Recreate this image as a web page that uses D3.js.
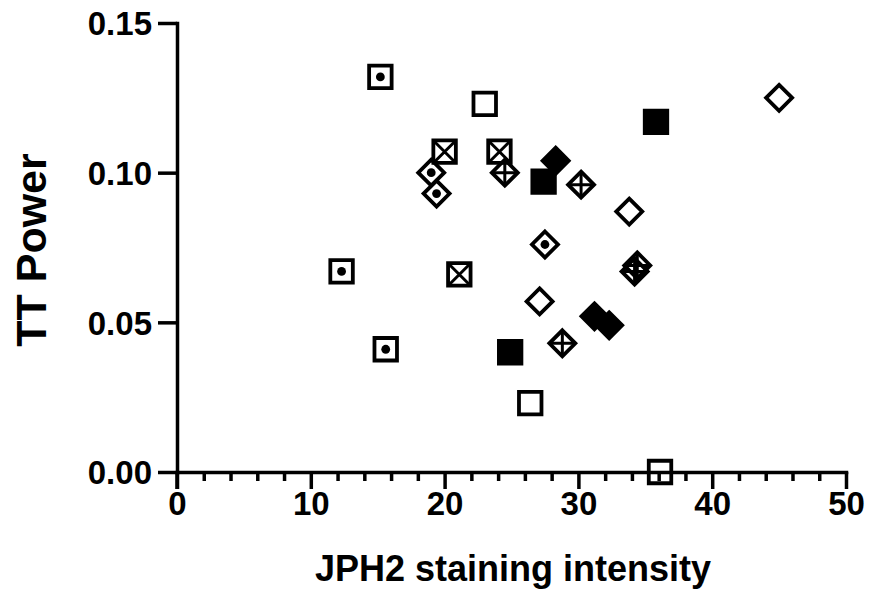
<!DOCTYPE html>
<html>
<head>
<meta charset="utf-8">
<script src="https://cdn.jsdelivr.net/npm/d3@7"></script>
<style>
  body { margin: 0; background: #fff; }
  text { font-family: "Liberation Sans", Arial, sans-serif; font-weight: bold; fill: #000; }
</style>
</head>
<body>
<script>
// scatter of TT power vs JPH2 staining

(function(){

//data, one pair of arrays per marker style
var squareDotX = [15.2, 12.3, 15.6],
    squareDotY = [0.132, 0.067, 0.041];
var squareOpenX = [23.0, 26.4, 36.1],
    squareOpenY = [0.123, 0.023, 0.000];
var squareCrossX = [20.0, 24.1, 21.1],
    squareCrossY = [0.107, 0.107, 0.066];
var squareFillX = [27.4, 24.9, 35.8],
    squareFillY = [0.097, 0.040, 0.117];
var diamondDotX = [19.0, 19.4, 27.5],
    diamondDotY = [0.100, 0.093, 0.076];
var diamondOpenX = [45.0, 33.8, 27.1],
    diamondOpenY = [0.125, 0.087, 0.057];
var diamondPlusX = [24.5, 30.2, 34.4, 34.2, 28.8],
    diamondPlusY = [0.100, 0.096, 0.069, 0.067, 0.043];
var diamondFillX = [28.3, 31.2, 32.3],
    diamondFillY = [0.104, 0.052, 0.049];

var xTicks = [0, 10, 20, 30, 40, 50],
    xMinor = [2, 4, 6, 8, 12, 14, 16, 18, 22, 24, 26, 28, 32, 34, 36, 38, 42, 44, 46, 48],
    yTicks = [0, 0.05, 0.10, 0.15];

//group list, drawn in this order
var groups = [
    {shape: "square", deco: "dot", xs: squareDotX, ys: squareDotY},
    {shape: "square", deco: "none", xs: squareOpenX, ys: squareOpenY},
    {shape: "square", deco: "x", xs: squareCrossX, ys: squareCrossY},
    {shape: "square", deco: "fill", xs: squareFillX, ys: squareFillY},
    {shape: "diamond", deco: "dot", xs: diamondDotX, ys: diamondDotY},
    {shape: "diamond", deco: "none", xs: diamondOpenX, ys: diamondOpenY},
    {shape: "diamond", deco: "plus", xs: diamondPlusX, ys: diamondPlusY},
    {shape: "diamond", deco: "fill", xs: diamondFillX, ys: diamondFillY}
];

var width = 870,
    height = 590;

var svg = d3.select("body")
    .append("svg")
    .attr("width", width)
    .attr("height", height);

//scales
var x = d3.scaleLinear()
    .domain([0, 50])
    .range([177, 846]);

var y = d3.scaleLinear()
    .domain([0, 0.15])
    .range([472, 23]);

//minor x ticks first so the axis line covers them
svg.append("g")
    .attr("class", "xminor")
    .attr("transform", "translate(0," + y(0) + ")")
    .call(d3.axisBottom(x).tickValues(xMinor).tickSize(9).tickFormat(""));

var xAxis = svg.append("g")
    .attr("class", "xaxis")
    .attr("transform", "translate(0," + y(0) + ")")
    .call(d3.axisBottom(x).tickValues(xTicks).tickSize(17).tickSizeOuter(0).tickPadding(4));

var yAxis = svg.append("g")
    .attr("class", "yaxis")
    .attr("transform", "translate(" + x(0) + ",0)")
    .call(d3.axisLeft(y).tickValues(yTicks).tickSize(19).tickSizeOuter(0).tickPadding(6).tickFormat(d3.format(".2f")));

//axis styling
svg.selectAll(".xminor path").remove();
svg.selectAll(".xminor line, .xaxis line, .yaxis line")
    .attr("stroke", "#000")
    .attr("stroke-width", 3.5);
svg.selectAll(".xaxis path, .yaxis path")
    .attr("stroke", "#000")
    .attr("stroke-width", 3.5)
    .attr("stroke-linecap", "square");
svg.selectAll(".xaxis text, .yaxis text")
    .attr("font-size", 33)
    .attr("font-family", null)
    .attr("fill", "#000");
xAxis.selectAll("text").attr("dy", "0.68em");
yAxis.selectAll("text").attr("dy", "0.36em");

//extend the y axis down to meet the 0 tick of x
yAxis.append("line")
    .attr("x1", 0).attr("x2", 0)
    .attr("y1", y(0)).attr("y2", y(0) + 17)
    .attr("stroke", "#000")
    .attr("stroke-width", 3.5);

//axis titles
svg.append("text")
    .attr("x", 513)
    .attr("y", 581)
    .attr("text-anchor", "middle")
    .attr("font-size", 36)
    .text("JPH2 staining intensity");

svg.append("text")
    .attr("transform", "translate(46,250) rotate(-90)")
    .attr("text-anchor", "middle")
    .attr("font-size", 43)
    .text("TT Power");

//marker geometry
var sq = 11.25,   //half side of square
    dm = 13;      //half diagonal of diamond

function markerPath(shape){
    if (shape == "square"){
        return "M" + (-sq) + "," + (-sq) + "H" + sq + "V" + sq + "H" + (-sq) + "Z";
    }
    return "M0," + (-dm) + "L" + dm + ",0L0," + dm + "L" + (-dm) + ",0Z";
};

//draw every group
groups.forEach(function(g){
    var pts = g.xs.map(function(v, i){ return [v, g.ys[i]]; });

    var marks = svg.append("g")
        .selectAll("g")
        .data(pts)
        .enter()
        .append("g")
        .attr("transform", function(d){
            return "translate(" + x(d[0]) + "," + y(d[1]) + ")";
        });

    marks.append("path")
        .attr("d", markerPath(g.shape))
        .attr("fill", g.deco == "fill" ? "#000" : "none")
        .attr("stroke", "#000")
        .attr("stroke-width", 3.8)
        .attr("stroke-linejoin", "miter");

    if (g.deco == "dot"){
        marks.append("circle")
            .attr("r", 4.4)
            .attr("fill", "#000");
    }
    if (g.deco == "x"){
        marks.append("path")
            .attr("d", "M" + (-sq) + "," + (-sq) + "L" + sq + "," + sq + "M" + sq + "," + (-sq) + "L" + (-sq) + "," + sq)
            .attr("stroke", "#000")
            .attr("stroke-width", 3);
    }
    if (g.deco == "plus"){
        marks.append("path")
            .attr("d", "M" + (-dm) + ",0H" + dm + "M0," + (-dm) + "V" + dm)
            .attr("stroke", "#000")
            .attr("stroke-width", 3);
    }
});

})();
</script>
</body>
</html>
